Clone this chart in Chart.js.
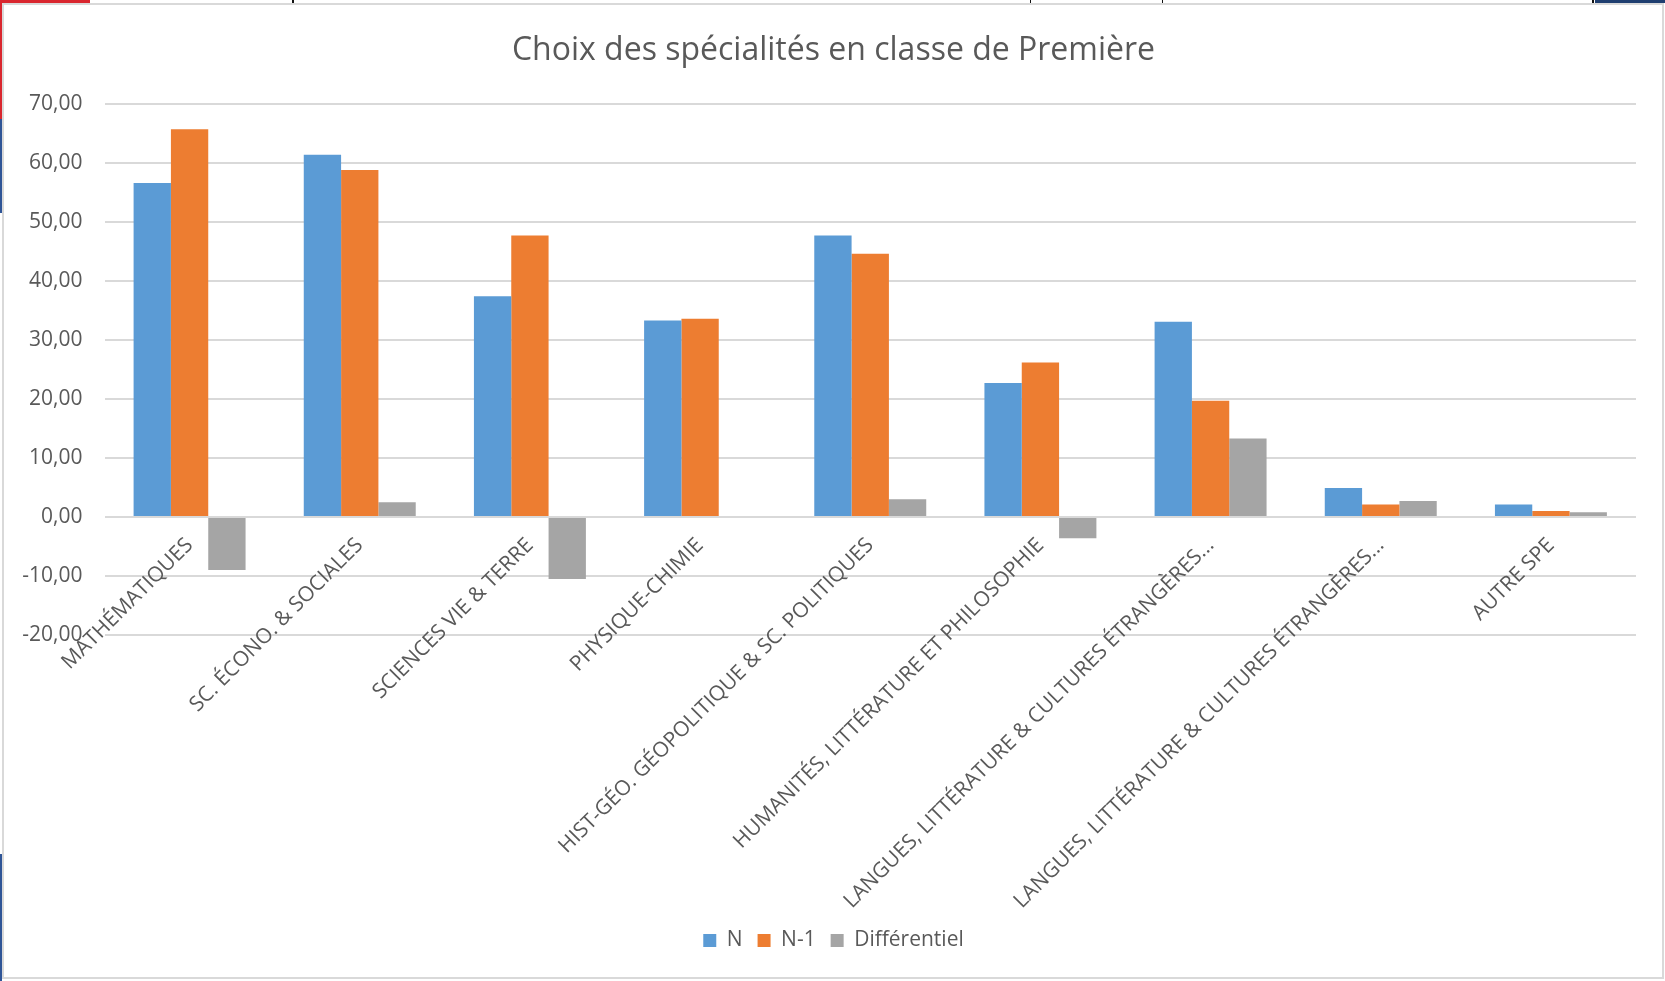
<!DOCTYPE html>
<html lang="fr">
<head>
<meta charset="UTF-8">
<title>Choix des spécialités en classe de Première</title>
<script src="https://cdn.jsdelivr.net/npm/chart.js"></script>
<style>
  html, body { margin: 0; padding: 0; background: #fff; }
  body { width: 1665px; height: 981px; position: relative; overflow: hidden; }
  .frame { position: absolute; left: 2px; top: 3px; width: 1662px; height: 976px;
           box-sizing: border-box; border: 2.5px solid #d9d9d9; }
  .strip { position: absolute; }
  #wrap { position: absolute; left: 0; top: 0; width: 1665px; height: 981px; }
</style>
</head>
<body>
<!-- bits of the surrounding sheet that show round the chart frame -->
<div class="strip" style="left:0;top:0;width:90px;height:3px;background:#d9262e"></div>
<div class="strip" style="left:0;top:0;width:2px;height:119px;background:#d9262e"></div>
<div class="strip" style="left:0;top:119px;width:2px;height:94px;background:#2f5597"></div>
<div class="strip" style="left:0;top:854px;width:2px;height:127px;background:#2f5597"></div>
<div class="strip" style="left:292px;top:0;width:2px;height:3px;background:#111"></div>
<div class="strip" style="left:1030px;top:0;width:1px;height:3px;background:#111"></div>
<div class="strip" style="left:1162px;top:0;width:1px;height:3px;background:#111"></div>
<div class="strip" style="left:1592px;top:0;width:2px;height:3px;background:#111"></div>
<div class="strip" style="left:1595px;top:0;width:70px;height:3px;background:#1f3e70"></div>
<div class="frame"></div>
<div id="wrap"><canvas id="specChart" width="1665" height="981"></canvas></div>

<script>
// categories
var categories = [
    'MATHÉMATIQUES',
    'SC. ÉCONO. & SOCIALES',
    'SCIENCES VIE & TERRE',
    'PHYSIQUE-CHIMIE',
    'HIST-GÉO. GÉOPOLITIQUE & SC. POLITIQUES',
    'HUMANITÉS, LITTÉRATURE ET PHILOSOPHIE',
    'LANGUES, LITTÉRATURE & CULTURES ÉTRANGÈRES...',
    'LANGUES, LITTÉRATURE & CULTURES ÉTRANGÈRES...',
    'AUTRE SPE'
];

// series
var valuesN    = [56.6, 61.4, 37.4, 33.3, 47.7, 22.7, 33.1, 4.9, 2.1];
var valuesN1   = [65.7, 58.8, 47.7, 33.6, 44.6, 26.2, 19.7, 2.1, 1.0];
var valuesDiff = [-9.0, 2.5, -10.5, 0, 3.0, -3.6, 13.3, 2.7, 0.8];

var seriesNames = ['N', 'N-1', 'Différentiel'];

// y axis
var yMin = -20;
var yMax = 70;
var yStep = 10;

var textColor = '#595959';
var fontFamily = '"Open Sans", "Noto Sans", sans-serif';

function frNumber(v) {
    return Number(v).toFixed(2).replace('.', ',');
}

var chartData = {
    labels: categories,
    datasets: [
        { label: seriesNames[0], data: valuesN,    backgroundColor: '#5b9bd5' },
        { label: seriesNames[1], data: valuesN1,   backgroundColor: '#ed7d31' },
        { label: seriesNames[2], data: valuesDiff, backgroundColor: '#a5a5a5' }
    ]
};

var ctx = document.getElementById('specChart').getContext('2d');
var specChart = new Chart(ctx, {
    type: 'bar',
    data: chartData,
    options: {
        responsive: false,
        animation: false,
        datasets: {
            bar: { barPercentage: 1.0, categoryPercentage: 0.658, borderWidth: 0 }
        },
        layout: { padding: { left: 16, right: 14, top: 0, bottom: 20 } },
        scales: {
            x: {
                position: { y: 0 },
                grid: { display: false, drawTicks: false },
                border: { display: false },
                ticks: {
                    autoSkip: false,
                    minRotation: 45,
                    maxRotation: 45,
                    padding: 16,
                    color: textColor,
                    font: { family: fontFamily, size: 21 }
                }
            },
            y: {
                min: yMin,
                max: yMax,
                afterFit: function (scale) { scale.width = 88.5; },
                grid: { color: '#d9d9d9', lineWidth: 2, drawTicks: false },
                border: { display: false },
                ticks: {
                    stepSize: yStep,
                    padding: 22,
                    color: textColor,
                    font: { family: fontFamily, size: 21 },
                    callback: function (v) { return frNumber(v); }
                }
            },
            // empty right margin so the title and legend sit where they do in the original
            yRight: {
                position: 'right',
                grid: { display: false, drawTicks: false },
                border: { display: false },
                ticks: { display: false },
                afterFit: function (scale) { scale.width = 15; }
            }
        },
        plugins: {
            title: {
                display: true,
                text: 'Choix des spécialités en classe de Première',
                color: textColor,
                font: { family: fontFamily, size: 32, weight: 'normal' },
                padding: { top: 32, bottom: 33.6 }
            },
            // empty box that keeps room for the rotated category labels
            subtitle: {
                display: true,
                text: '',
                position: 'bottom',
                weight: 500,
                font: { size: 10 },
                padding: { top: 268, bottom: 0 }
            },
            legend: {
                position: 'bottom',
                weight: 1000,
                labels: {
                    boxWidth: 13,
                    boxHeight: 13,
                    padding: 15,
                    color: textColor,
                    font: { family: fontFamily, size: 21 }
                }
            },
            tooltip: { enabled: false }
        }
    }
});
</script>
</body>
</html>
